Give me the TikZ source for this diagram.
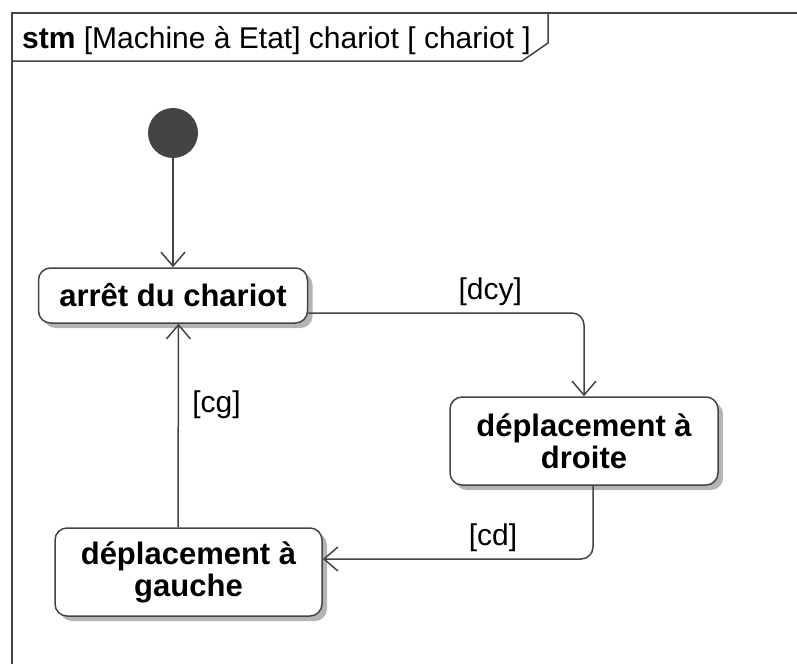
\documentclass[tikz,border=0pt]{standalone}
\usepackage{fontspec}
\setmainfont{Liberation Sans}
\usetikzlibrary{arrows.meta,shadows,positioning}
\definecolor{umlline}{HTML}{444444}
\definecolor{umlshadow}{HTML}{B4B4B4}

\begin{document}
\begin{tikzpicture}[x=1pt, y=-1pt, >={Straight Barb[length=14pt,width=24pt]}, node distance=162.5pt, font=\fontsize{30}{32}\selectfont]
	\tikzstyle{state} = [draw=umlline, line width=1.5pt, rounded corners=12pt, fill=white, align=center, inner sep=0pt, font=\fontsize{31}{32}\selectfont\bfseries, drop shadow={shadow xshift=5pt, shadow yshift=-5pt, fill=umlshadow, opacity=1}]
	\tikzstyle{init} = [circle, fill=umlline, minimum size=50pt, inner sep=0pt]
	\tikzstyle{trans} = [->, line width=1.5pt, draw=umlline, rounded corners=12pt]
	\useasboundingbox (0,0) rectangle (797,664);
	% cadre
	\draw[umlline, line width=2pt] (797,13) -- (12,13) -- (12,664);
	\draw[umlline, line width=1.5pt] (12,61) -- (522,61) -- (548,43) -- (548,13);
	\node[anchor=base west, inner sep=0pt] (titre) at (22,48) {\textbf{stm} [Machine à Etat] chariot [ chariot ]};
	% etats
	\path
	  node[init] (debut) at (173,133) {}
	  node[state, below of=debut, minimum width=269pt, minimum height=55pt] (arret) {arrêt du chariot}
	  node[state, minimum width=268pt, minimum height=88pt] (droite) at (584,441) {déplacement à\\droite}
	  node[state, minimum width=267pt, minimum height=88pt] (gauche) at (188.5,572) {déplacement à\\gauche};
	% transitions
	\draw[trans] (debut) -- (arret);
	\draw[trans] ([yshift=-17.5pt]arret.east) -| node[pos=0.33, above=3pt] (dcy) {[dcy]} (droite.north);
	\draw[trans] ([xshift=9pt]droite.south) |- node[pos=0.685, above=3pt] (cd) {[cd]} ([yshift=13pt]gauche.east);
	\draw[trans] ([xshift=-10.5pt]gauche.north) -- node[pos=0.6, right=10pt] (cg) {[cg]} ([xshift=5.5pt]arret.south);
\end{tikzpicture}
\end{document}
